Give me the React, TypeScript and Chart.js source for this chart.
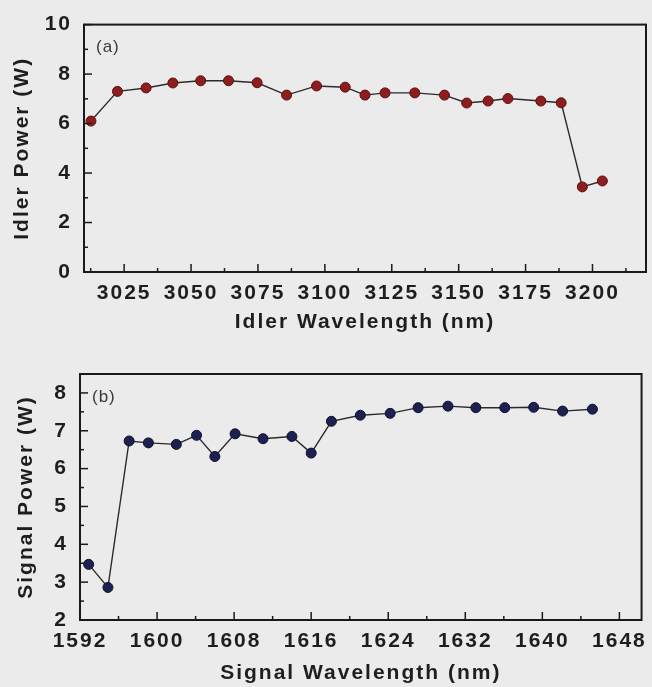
import React, { useEffect, useRef } from "react";
import { Chart, registerables } from "chart.js";

Chart.register(...registerables);

// ---- Data ----
const idlerWavelength = [3012.6, 3022.5, 3033.2, 3043.2, 3053.6, 3064.0, 3074.7, 3085.7, 3096.9, 3107.6, 3115.0, 3122.5, 3133.6, 3144.7, 3153.0, 3161.0, 3168.4, 3180.7, 3188.3, 3196.2, 3203.7];
const idlerPower = [6.1, 7.3, 7.44, 7.64, 7.73, 7.73, 7.65, 7.15, 7.52, 7.47, 7.15, 7.24, 7.24, 7.15, 6.83, 6.91, 7.01, 6.91, 6.84, 3.44, 3.68];

const signalWavelength = [1592.9, 1594.9, 1597.1, 1599.1, 1602.0, 1604.1, 1606.0, 1608.1, 1611.0, 1614.0, 1616.0, 1618.1, 1621.1, 1624.2, 1627.1, 1630.2, 1633.1, 1636.1, 1639.1, 1642.1, 1645.2];
const signalPower = [3.47, 2.86, 6.73, 6.68, 6.64, 6.88, 6.32, 6.92, 6.79, 6.85, 6.41, 7.25, 7.41, 7.46, 7.61, 7.65, 7.61, 7.61, 7.62, 7.52, 7.57];

const idlerXTicks = [3025, 3050, 3075, 3100, 3125, 3150, 3175, 3200];
const idlerYTicks = [0, 2, 4, 6, 8, 10];
const signalXTicks = [1592, 1600, 1608, 1616, 1624, 1632, 1640, 1648];
const signalYTicks = [2, 3, 4, 5, 6, 7, 8];

const FONT = "'Liberation Sans', Arial, sans-serif";
const TEXT = "#1e1e1e";
const BG = "#ebebeb";

function minorValues(major: number[], min: number, max: number) {
  const step = major[1] - major[0];
  const out: number[] = [];
  const start = major[0] - step / 2 - step * Math.ceil((major[0] - min) / step);
  for (let v = start; v <= max + 1e-9; v += step) {
    if (v > min + 1e-9 && v < max - 1e-9) out.push(v);
  }
  return out;
}

const framePlugin = {
  id: "frame",
  beforeDraw(chart: any) {
    chart.ctx.letterSpacing = "2px";
  },
  afterDraw(chart: any, _args: any, opts: any) {
    const { ctx, chartArea } = chart;
    const xs = chart.scales.x;
    const ys = chart.scales.y;
    ctx.save();
    ctx.strokeStyle = "#1a1a1a";
    ctx.lineWidth = 2;
    ctx.strokeRect(chartArea.left, chartArea.top, chartArea.right - chartArea.left, chartArea.bottom - chartArea.top);
    ctx.lineWidth = 1.5;
    const drawX = (vals: number[], len: number) => {
      vals.forEach((v) => {
        const px = xs.getPixelForValue(v);
        ctx.beginPath();
        ctx.moveTo(px, chartArea.bottom);
        ctx.lineTo(px, chartArea.bottom - len);
        ctx.stroke();
      });
    };
    const drawY = (vals: number[], len: number) => {
      vals.forEach((v) => {
        const py = ys.getPixelForValue(v);
        ctx.beginPath();
        ctx.moveTo(chartArea.left, py);
        ctx.lineTo(chartArea.left + len, py);
        ctx.stroke();
      });
    };
    drawX(opts.xMajor, 8);
    drawX(minorValues(opts.xMajor, xs.min, xs.max), 4);
    drawY(opts.yMajor, 8);
    drawY(minorValues(opts.yMajor, ys.min, ys.max), 4);
    // panel tag
    ctx.letterSpacing = "1px";
    ctx.fillStyle = "#3a3a3a";
    ctx.font = `17px ${FONT}`;
    ctx.textBaseline = "middle";
    ctx.textAlign = "left";
    ctx.fillText(opts.tag, chartArea.left + 12, chartArea.top + 23);
    ctx.restore();
  },
};

type PanelProps = {
  xs: number[];
  ys: number[];
  xTicks: number[];
  yTicks: number[];
  xMin: number;
  xMax: number;
  yMin: number;
  yMax: number;
  xTitle: string;
  yTitle: string;
  tag: string;
  color: string;
  edge: string;
  height: number;
  padTop: number;
  padRight: number;
  yWidth: number;
  xHeight: number;
  yTitlePad: number;
  xTitlePad: number;
};

function Panel(p: PanelProps) {
  const ref = useRef<HTMLCanvasElement | null>(null);
  useEffect(() => {
    if (!ref.current) return;
    const chart = new Chart(ref.current, {
      type: "line",
      data: {
        datasets: [
          {
            data: p.xs.map((x, i) => ({ x, y: p.ys[i] })),
            borderColor: "#2b2b2b",
            borderWidth: 1.4,
            pointBackgroundColor: p.color,
            pointBorderColor: p.edge,
            pointBorderWidth: 1,
            pointRadius: 5,
            tension: 0,
            fill: false,
          },
        ],
      },
      options: {
        responsive: false,
        animation: false,
        layout: { padding: { top: p.padTop, right: p.padRight, left: 0, bottom: 0 } },
        plugins: {
          legend: { display: false },
          tooltip: { enabled: false },
          frame: { xMajor: p.xTicks, yMajor: p.yTicks, tag: p.tag },
        } as any,
        scales: {
          x: {
            type: "linear",
            min: p.xMin,
            max: p.xMax,
            grid: { display: false, drawTicks: false },
            border: { display: false },
            afterBuildTicks: (s: any) => {
              s.ticks = p.xTicks.map((v) => ({ value: v }));
            },
            afterFit: (s: any) => {
              s.height = p.xHeight;
            },
            ticks: {
              color: TEXT,
              padding: 9,
              maxRotation: 0,
              autoSkip: false,
              font: { family: FONT, size: 21, weight: "bold" },
              callback: (v: any) => String(v),
            },
            title: {
              display: true,
              text: p.xTitle,
              color: TEXT,
              font: { family: FONT, size: 21, weight: "bold" },
              padding: { top: 0, bottom: p.xTitlePad },
            },
          },
          y: {
            type: "linear",
            min: p.yMin,
            max: p.yMax,
            grid: { display: false, drawTicks: false },
            border: { display: false },
            afterBuildTicks: (s: any) => {
              s.ticks = p.yTicks.map((v) => ({ value: v }));
            },
            afterFit: (s: any) => {
              s.width = p.yWidth;
            },
            ticks: {
              color: TEXT,
              padding: 12,
              autoSkip: false,
              font: { family: FONT, size: 21, weight: "bold" },
              callback: (v: any) => String(v),
            },
            title: {
              display: true,
              text: p.yTitle,
              color: TEXT,
              font: { family: FONT, size: 21, weight: "bold" },
              padding: { top: p.yTitlePad, bottom: 0 },
            },
          },
        },
      },
      plugins: [framePlugin],
    });
    return () => chart.destroy();
  }, []);
  return <canvas ref={ref} width={652} height={p.height} style={{ display: "block", width: 652, height: p.height }} />;
}

export default function App() {
  return (
    <div style={{ position: "absolute", left: 0, top: 0, width: 652, height: 687, background: BG, overflow: "hidden" }}>
      <Panel
        xs={idlerWavelength}
        ys={idlerPower}
        xTicks={idlerXTicks}
        yTicks={idlerYTicks}
        xMin={3010}
        xMax={3220}
        yMin={0}
        yMax={10}
        xTitle="Idler Wavelength (nm)"
        yTitle="Idler Power (W)"
        tag="(a)"
        color="#8e1d1d"
        edge="#5c1010"
        height={345}
        padTop={22}
        padRight={2}
        yWidth={84}
        xHeight={73}
        yTitlePad={10}
        xTitlePad={10}
      />
      <Panel
        xs={signalWavelength}
        ys={signalPower}
        xTicks={signalXTicks}
        yTicks={signalYTicks}
        xMin={1592}
        xMax={1650.3}
        yMin={2}
        yMax={8.5}
        xTitle="Signal Wavelength (nm)"
        yTitle="Signal Power (W)"
        tag="(b)"
        color="#1e2050"
        edge="#0e0f30"
        height={342}
        padTop={29}
        padRight={4}
        yWidth={80}
        xHeight={67}
        yTitlePad={14}
        xTitlePad={1}
      />
    </div>
  );
}
